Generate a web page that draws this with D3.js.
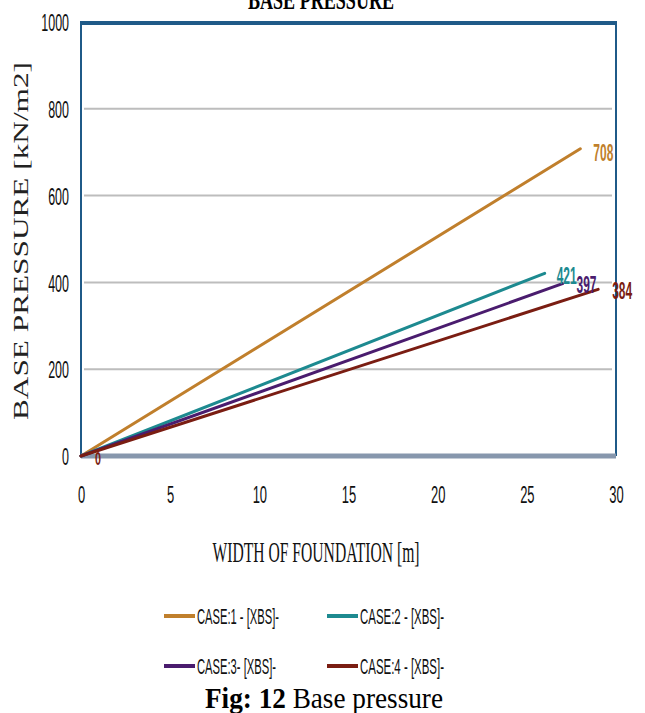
<!DOCTYPE html>
<html>
<head>
<meta charset="utf-8">
<script src="https://cdn.jsdelivr.net/npm/d3@7/dist/d3.min.js"></script>
<style>
  html, body { margin: 0; padding: 0; background: #fff; }
  svg { display: block; }
</style>
</head>
<body>
<svg id="chart" width="645" height="713"></svg>
<script>
// Base pressure vs. width of foundation, four load cases
const caseNames = ["CASE:1 - [XBS]-", "CASE:2 - [XBS]-", "CASE:3- [XBS]-", "CASE:4 - [XBS]-"];
const caseColors = ["#c07f2c", "#1d8a90", "#4a1c6e", "#7a1d12"];
const widths = [[0, 28], [0, 26], [0, 27], [0, 29]];
const pressures = [[0, 708], [0, 421], [0, 397], [0, 384]];
const xTicks = [0, 5, 10, 15, 20, 25, 30];
const yTicks = [0, 200, 400, 600, 800, 1000];

const svg = d3.select("#chart");
const plot = { left: 81, right: 616, top: 22, bottom: 456 };

const x = d3.scaleLinear().domain([0, 30]).range([plot.left, plot.right]);
const y = d3.scaleLinear().domain([0, 1000]).range([plot.bottom, plot.top]);

const sans = "'Liberation Sans', Arial, sans-serif";
const serif = "'Liberation Serif', 'Times New Roman', serif";

// Squeeze text horizontally to get a tall, condensed look
function condense(sel, factor) {
  sel.each(function () {
    const w = this.getComputedTextLength();
    d3.select(this).attr("textLength", w * factor).attr("lengthAdjust", "spacingAndGlyphs");
  });
}

// Title (clipped by the top edge)
svg.append("text")
  .attr("x", 321).attr("y", 9)
  .attr("text-anchor", "middle")
  .attr("font-family", serif).attr("font-weight", "bold")
  .attr("font-size", 28)
  .attr("textLength", 146).attr("lengthAdjust", "spacingAndGlyphs")
  .text("BASE PRESSURE");

// Horizontal gridlines
svg.append("g")
  .selectAll("line")
  .data(yTicks.filter(v => v > 0 && v < 1000))
  .join("line")
  .attr("x1", plot.left + 3).attr("x2", plot.right - 4)
  .attr("y1", d => y(d)).attr("y2", d => y(d))
  .attr("stroke", "#bdbdbd").attr("stroke-width", 2);

// Y axis labels
const yAxis = d3.axisLeft(y).tickValues(yTicks).tickFormat(d3.format("d")).tickSize(0).tickPadding(12);
svg.append("g")
  .attr("transform", `translate(${plot.left},0)`)
  .call(yAxis)
  .call(g => g.select(".domain").remove())
  .call(g => g.selectAll("text")
    .attr("font-family", sans).attr("font-size", 24)
    .attr("fill", "#111").attr("dy", "0.36em")
    .call(condense, 0.52));

// X axis labels
const xAxis = d3.axisBottom(x).tickValues(xTicks).tickFormat(d3.format("d")).tickSize(0).tickPadding(38);
svg.append("g")
  .attr("transform", `translate(0,${plot.bottom})`)
  .call(xAxis)
  .call(g => g.select(".domain").remove())
  .call(g => g.selectAll("text")
    .attr("font-family", sans).attr("font-size", 24)
    .attr("fill", "#111").attr("dy", "0.36em")
    .call(condense, 0.54));

// Plot frame
svg.append("line")
  .attr("x1", plot.left).attr("x2", plot.left)
  .attr("y1", plot.top).attr("y2", plot.bottom)
  .attr("stroke", "#1f5a88").attr("stroke-width", 2);
svg.append("line")
  .attr("x1", plot.right).attr("x2", plot.right)
  .attr("y1", plot.top).attr("y2", plot.bottom)
  .attr("stroke", "#1f5a88").attr("stroke-width", 2);
svg.append("line")
  .attr("x1", plot.left - 1).attr("x2", plot.right + 1)
  .attr("y1", plot.top + 1).attr("y2", plot.top + 1)
  .attr("stroke", "#1f5a88").attr("stroke-width", 4);
svg.append("line")
  .attr("x1", plot.left).attr("x2", plot.right)
  .attr("y1", plot.bottom).attr("y2", plot.bottom)
  .attr("stroke", "#8797ad").attr("stroke-width", 5);

// Series lines
const line = d3.line().x(d => x(d[0])).y(d => y(d[1]));
const series = caseNames.map((name, i) => ({
  name, color: caseColors[i],
  points: widths[i].map((w, j) => [w, pressures[i][j]])
}));

svg.append("g")
  .selectAll("path")
  .data(series)
  .join("path")
  .attr("d", d => line(d.points))
  .attr("fill", "none")
  .attr("stroke", d => d.color)
  .attr("stroke-width", 3)
  .attr("stroke-linecap", "round");

// End-point value labels
const labelOffsets = [[13, 4], [12, 2], [14, 1], [14, 1]];
svg.append("g")
  .selectAll("text")
  .data(series)
  .join("text")
  .attr("x", (d, i) => x(d.points[1][0]) + labelOffsets[i][0])
  .attr("y", (d, i) => y(d.points[1][1]) + labelOffsets[i][1])
  .attr("dy", "0.36em")
  .attr("font-family", sans).attr("font-weight", "bold")
  .attr("font-size", 23)
  .attr("fill", d => d.color)
  .text(d => d.points[1][1])
  .call(condense, 0.52);

// Start-point label of the last series
const last = series[3];
svg.append("text")
  .attr("x", x(last.points[0][0]) + 17)
  .attr("y", y(last.points[0][1]) + 2.5)
  .attr("dy", "0.36em")
  .attr("text-anchor", "middle")
  .attr("font-family", sans).attr("font-weight", "bold")
  .attr("font-size", 18)
  .attr("fill", last.color)
  .text(last.points[0][1])
  .call(condense, 0.6);

// Axis titles
svg.append("text")
  .attr("transform", "translate(28,241) rotate(-90)")
  .attr("text-anchor", "middle")
  .attr("font-family", serif).attr("font-size", 20)
  .attr("fill", "#222")
  .attr("textLength", 358).attr("lengthAdjust", "spacingAndGlyphs")
  .text("BASE PRESSURE [kN/m2]");

svg.append("text")
  .attr("x", 316).attr("y", 562)
  .attr("text-anchor", "middle")
  .attr("font-family", serif).attr("font-size", 29)
  .attr("fill", "#111")
  .attr("textLength", 207).attr("lengthAdjust", "spacingAndGlyphs")
  .text("WIDTH OF FOUNDATION [m]");

// Legend (2 x 2)
const legendPos = [[164, 616], [327, 616], [164, 666], [327, 666]];
const legendTextWidths = [82, 84, 79, 84];
const legend = svg.append("g")
  .selectAll("g")
  .data(series)
  .join("g")
  .attr("transform", (d, i) => `translate(${legendPos[i][0]},${legendPos[i][1]})`);
legend.append("line")
  .attr("x1", 0).attr("x2", 31)
  .attr("stroke", d => d.color).attr("stroke-width", 4);
legend.append("text")
  .attr("x", 33).attr("dy", "0.36em")
  .attr("font-family", sans).attr("font-size", 22)
  .attr("fill", "#111")
  .attr("textLength", (d, i) => legendTextWidths[i])
  .attr("lengthAdjust", "spacingAndGlyphs")
  .text(d => d.name);

// Figure caption
const caption = svg.append("text")
  .attr("x", 324).attr("y", 708)
  .attr("text-anchor", "middle")
  .attr("font-family", serif).attr("font-size", 29)
  .attr("fill", "#000")
  .attr("textLength", 238).attr("lengthAdjust", "spacingAndGlyphs");
caption.append("tspan").attr("font-weight", "bold").text("Fig: 12");
caption.append("tspan").text(" Base pressure");
</script>
</body>
</html>
